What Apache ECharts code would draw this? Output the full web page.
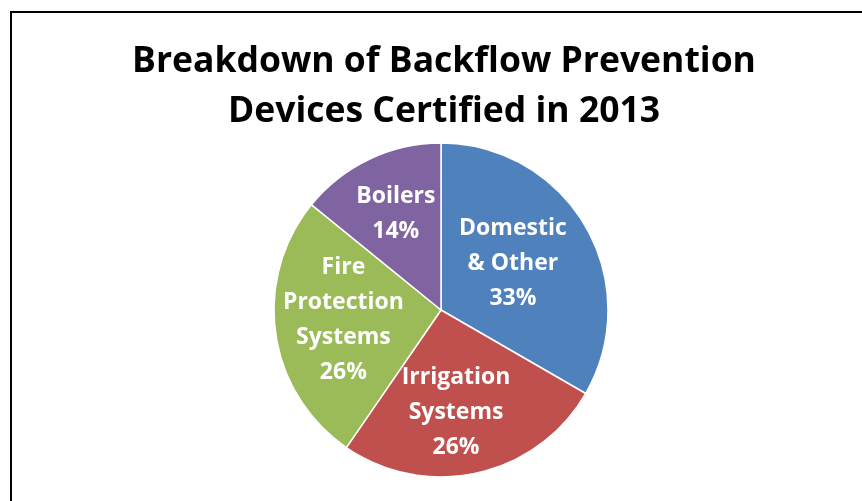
<!DOCTYPE html>
<html>
<head>
<meta charset="utf-8">
<script src="https://cdn.jsdelivr.net/npm/echarts@6/dist/echarts.min.js"></script>
<style>
  html, body { margin: 0; padding: 0; background: #fff; }
  #chart { width: 862px; height: 501px; }
</style>
</head>
<body>
<div id="chart"></div>
<script>
// Device categories and their share of 2013 certifications (percent)
const categories = ['Domestic\n& Other', 'Irrigation\nSystems', 'Fire\nProtection\nSystems', 'Boilers'];
const shares = [33, 26, 26, 14];
const sliceColors = ['#4F81BD', '#C0504D', '#9BBB59', '#8064A2'];
const chartTitle = 'Breakdown of Backflow Prevention\nDevices Certified in 2013';

// Nudges from the default inside label spot, per slice
const labelShift = [[-3, -3], [-4, 18], [-12, -2], [-8, -18]];

const chart = echarts.init(document.getElementById('chart'));
chart.setOption({
  backgroundColor: '#ffffff',
  graphic: [{
    type: 'rect',
    shape: { x: 11, y: 12, width: 900, height: 600 },
    style: { fill: 'none', stroke: '#000', lineWidth: 2 },
    silent: true
  }, {
    type: 'text',
    x: 444,
    y: 37,
    silent: true,
    style: {
      text: chartTitle,
      align: 'center',
      verticalAlign: 'top',
      fontFamily: 'Open Sans',
      fontWeight: 'bold',
      fontSize: 35.5,
      lineHeight: 50,
      fill: '#000'
    }
  }],
  series: [{
    type: 'pie',
    center: [441, 310],
    radius: 167,
    startAngle: 90,
    clockwise: true,
    animation: false,
    itemStyle: { borderColor: '#fff', borderWidth: 1.5 },
    label: {
      show: true,
      position: 'inside',
      formatter: p => p.name + '\n' + p.value + '%',
      color: '#fff',
      fontFamily: 'Open Sans',
      fontWeight: 'bold',
      fontSize: 23,
      lineHeight: 35
    },
    labelLine: { show: false },
    labelLayout: p => ({ dx: labelShift[p.dataIndex][0], dy: labelShift[p.dataIndex][1] }),
    data: categories.map((name, i) => ({
      name,
      value: shares[i],
      itemStyle: { color: sliceColors[i] }
    }))
  }]
});
</script>
</body>
</html>
